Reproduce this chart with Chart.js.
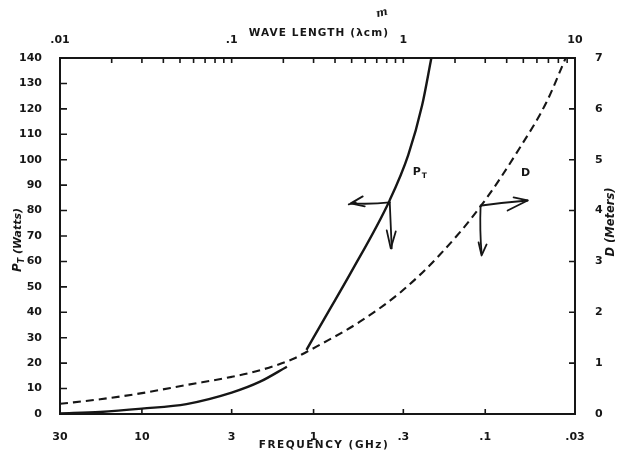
<!DOCTYPE html>
<html>
<head>
<meta charset="utf-8">
<script src="https://cdn.jsdelivr.net/npm/chart.js@4.4.1/dist/chart.umd.min.js"></script>
<style>
  html, body { margin: 0; padding: 0; background: #fff; }
  canvas { display: block; }
</style>
</head>
<body>
<canvas id="powerChart" width="622" height="455"></canvas>
<script>
// Frequency axis (GHz) runs high to low, left to right
const freqTicks = [30, 10, 3, 1, 0.3, 0.1, 0.03];
const freqLabels = ['30', '10', '3', '1', '.3', '.1', '.03'];

// Wavelength axis along the top
const waveTicks = [0.01, 0.1, 1, 10];
const waveLabels = ['.01', '.1', '1', '10'];

// Transmitter power P_T (Watts) - the null is the break where it crosses D
const freqP = [30, 17.5, 10, 5.5, 3, 2.05, 1.43, 1.25, 1.1, 0.84, 0.61, 0.36, 0.281, 0.233, 0.206];
const powerWatts = [0.2, 0.8, 2.1, 3.9, 8.4, 12.7, 18.6, null, 25.2, 39, 55.3, 84.1, 101.8, 121.5, 140];

// Antenna diameter D (Meters)
const freqD = [30, 17.5, 10, 5.5, 3, 2.05, 1.32, 1.1, 0.92, 0.54, 0.31, 0.184, 0.105, 0.063, 0.044, 0.034];
const diameterMeters = [0.2, 0.29, 0.41, 0.57, 0.73, 0.86, 1.08, 1.22, 1.36, 1.81, 2.4, 3.13, 4.11, 5.23, 6.13, 7.0];

const ink = '#161616';
const tickFont = { family: 'DejaVu Sans', size: 11, weight: 'bold' };

function labelFor(list, labels) {
  return (v) => {
    const i = list.indexOf(v);
    return i >= 0 ? labels[i] : '';
  };
}

// Frame, inward tick marks, titles and the hand-drawn arrows
const paperPlugin = {
  id: 'paper',
  afterDraw(chart) {
    const { ctx, chartArea: a, scales } = chart;
    const { x, x2, y, y1 } = scales;
    ctx.save();
    ctx.strokeStyle = ink;
    ctx.fillStyle = ink;
    ctx.lineWidth = 2;
    ctx.strokeRect(a.left, a.top, a.right - a.left, a.bottom - a.top);

    ctx.lineWidth = 1.6;
    ctx.beginPath();
    y.ticks.forEach(t => {
      const py = y.getPixelForValue(t.value);
      ctx.moveTo(a.left, py);
      ctx.lineTo(a.left + 7, py);
    });
    y1.ticks.forEach(t => {
      const py = y1.getPixelForValue(t.value);
      ctx.moveTo(a.right, py);
      ctx.lineTo(a.right - 6, py);
    });
    x.ticks.forEach(t => {
      if (t.value === 30 || t.value === 0.03) return;
      const px = x.getPixelForValue(t.value);
      ctx.moveTo(px, a.bottom);
      ctx.lineTo(px, a.bottom - 5);
    });
    for (let dec = 0.01; dec < 9; dec *= 10) {
      for (let k = 1; k <= 9; k++) {
        const px = x2.getPixelForValue(dec * k);
        ctx.moveTo(px, a.top);
        ctx.lineTo(px, a.top + 5);
      }
    }
    ctx.stroke();

    // axis titles
    ctx.textBaseline = 'middle';
    ctx.textAlign = 'center';
    ctx.font = 'bold 10.5px "DejaVu Sans"';
    ctx.letterSpacing = '1.5px';
    ctx.fillText('FREQUENCY (GHz)', 324, 445);
    ctx.letterSpacing = '1.1px';
    ctx.fillText('WAVE LENGTH (λcm)', 319, 33);
    ctx.letterSpacing = '0px';

    // handwritten unit correction above the top title
    ctx.save();
    ctx.translate(382, 13);
    ctx.rotate(-0.25);
    ctx.font = 'italic bold 11px "DejaVu Serif"';
    ctx.fillText('m', 0, 0);
    ctx.restore();

    // left title: P_T (Watts), reading upward
    ctx.save();
    ctx.translate(18, 240);
    ctx.rotate(-Math.PI / 2);
    ctx.textAlign = 'left';
    const f1 = 'italic bold 12px "DejaVu Sans"';
    const f2 = 'italic bold 8px "DejaVu Sans"';
    const f3 = 'italic bold 11px "DejaVu Sans"';
    ctx.font = f1; const w1 = ctx.measureText('P').width;
    ctx.font = f2; const w2 = ctx.measureText('T').width;
    ctx.font = f3; const w3 = ctx.measureText(' (Watts)').width;
    let cx = -(w1 + w2 + w3) / 2;
    ctx.font = f1; ctx.fillText('P', cx, 0); cx += w1;
    ctx.font = f2; ctx.fillText('T', cx, 3.5); cx += w2;
    ctx.font = f3; ctx.fillText(' (Watts)', cx, 0);
    ctx.restore();

    // right title, also reading upward
    ctx.save();
    ctx.translate(611, 222);
    ctx.rotate(-Math.PI / 2);
    ctx.font = 'italic bold 11.5px "DejaVu Sans"';
    ctx.fillText('D (Meters)', 0, 0);
    ctx.restore();

    // arrows pointing each curve to its own axis
    const A = { x: x.getPixelForValue(0.36), y: y.getPixelForValue(84) };
    const B = { x: x.getPixelForValue(0.105), y: y1.getPixelForValue(4.1) };
    ctx.lineWidth = 1.8;
    ctx.lineCap = 'round';
    ctx.lineJoin = 'round';
    const line = (p, pts) => {
      ctx.beginPath();
      ctx.moveTo(p.x + pts[0][0], p.y + pts[0][1]);
      for (let i = 1; i < pts.length; i++) ctx.lineTo(p.x + pts[i][0], p.y + pts[i][1]);
      ctx.stroke();
    };
    const curve = (p, s, c, e) => {
      ctx.beginPath();
      ctx.moveTo(p.x + s[0], p.y + s[1]);
      ctx.quadraticCurveTo(p.x + c[0], p.y + c[1], p.x + e[0], p.y + e[1]);
      ctx.stroke();
    };
    // P_T: left and down
    curve(A, [0, 2], [-18, 4], [-38, 3]);
    line(A, [[-27, -4], [-39, 3], [-25, 6]]);
    line(A, [[-34, 2], [-41, 4]]);
    curve(A, [0, 2], [1, 25], [2, 48]);
    line(A, [[-3, 30], [1, 48], [6, 31]]);
    // D: right and down
    curve(B, [0, 0], [22, -3], [46, -5]);
    line(B, [[32, -8], [46, -5], [26, 5]]);
    curve(B, [-1, 0], [-2, 25], [0, 48]);
    line(B, [[-3, 37], [0, 50], [5, 39]]);

    // curve labels
    ctx.font = 'bold 11px "DejaVu Sans"';
    ctx.textAlign = 'center';
    ctx.fillText('P', A.x + 27, A.y - 28);
    ctx.font = 'bold 7.5px "DejaVu Sans"';
    ctx.fillText('T', A.x + 34.5, A.y - 24);
    ctx.font = 'bold 11px "DejaVu Sans"';
    ctx.fillText('D', B.x + 44, B.y - 32);
    ctx.restore();
  }
};

new Chart(document.getElementById('powerChart').getContext('2d'), {
  type: 'line',
  data: {
    datasets: [
      {
        label: 'P_T',
        data: freqP.map((f, i) => ({ x: f, y: powerWatts[i] })),
        yAxisID: 'y',
        borderColor: ink,
        borderWidth: 2.4,
        pointRadius: 0,
        spanGaps: false,
        cubicInterpolationMode: 'monotone'
      },
      {
        label: 'D',
        data: freqD.map((f, i) => ({ x: f, y: diameterMeters[i] })),
        yAxisID: 'y1',
        borderColor: ink,
        borderWidth: 2.1,
        borderDash: [8, 5],
        pointRadius: 0,
        cubicInterpolationMode: 'monotone'
      }
    ]
  },
  options: {
    responsive: false,
    animation: false,
    layout: { padding: 0 },
    plugins: { legend: { display: false }, tooltip: { enabled: false } },
    scales: {
      x: {
        type: 'logarithmic',
        position: 'bottom',
        reverse: true,
        min: 0.03,
        max: 30,
        grid: { display: false },
        border: { display: false },
        ticks: { color: ink, font: tickFont, padding: 9, maxRotation: 0, autoSkip: false,
                 callback: labelFor(freqTicks, freqLabels) },
        afterBuildTicks: s => { s.ticks = freqTicks.map(v => ({ value: v })); },
        afterFit: s => { s.height = 41; }
      },
      x2: {
        type: 'logarithmic',
        position: 'top',
        min: 0.01,
        max: 10,
        grid: { display: false },
        border: { display: false },
        ticks: { color: ink, font: tickFont, padding: 3, maxRotation: 0, autoSkip: false,
                 callback: labelFor(waveTicks, waveLabels) },
        afterBuildTicks: s => { s.ticks = waveTicks.map(v => ({ value: v })); },
        afterFit: s => { s.height = 58; }
      },
      y: {
        type: 'linear',
        position: 'left',
        min: 0,
        max: 140,
        grid: { display: false },
        border: { display: false },
        ticks: { color: ink, font: tickFont, padding: 10, stepSize: 10 },
        afterFit: s => { s.width = 60; }
      },
      y1: {
        type: 'linear',
        position: 'right',
        min: 0,
        max: 7,
        grid: { display: false },
        border: { display: false },
        ticks: { color: ink, font: tickFont, padding: 12, stepSize: 1 },
        afterFit: s => { s.width = 47; }
      }
    }
  },
  plugins: [paperPlugin]
});
</script>
</body>
</html>
